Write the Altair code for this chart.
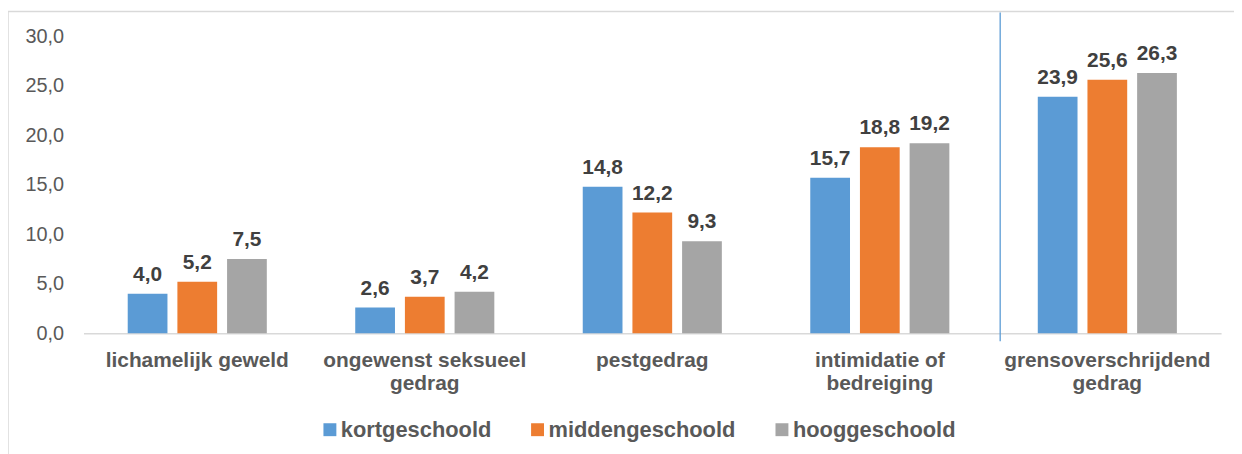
import json
import altair as alt
import pandas as pd

categories = ["lichamelijk geweld", "ongewenst seksueel gedrag", "pestgedrag",
              "intimidatie of bedreiging", "grensoverschrijdend gedrag"]
series = ["kortgeschoold", "middengeschoold", "hooggeschoold"]
kortgeschoold = [4.0, 2.6, 14.8, 15.7, 23.9]
middengeschoold = [5.2, 3.7, 12.2, 18.8, 25.6]
hooggeschoold = [7.5, 4.2, 9.3, 19.2, 26.3]
colors = ["#5B9BD5", "#ED7D31", "#A5A5A5"]
wrapped = {
    "ongewenst seksueel gedrag": ["ongewenst seksueel", "gedrag"],
    "intimidatie of bedreiging": ["intimidatie of", "bedreiging"],
    "grensoverschrijdend gedrag": ["grensoverschrijdend", "gedrag"],
}

rows = []
for s, vals in zip(series, [kortgeschoold, middengeschoold, hooggeschoold]):
    for c, v in zip(categories, vals):
        rows.append({"categorie": c, "opleiding": s, "waarde": v})
df = pd.DataFrame(rows)

W, H = 1145, 299
FONT = "Liberation Sans"

x_enc = alt.X("categorie:N", sort=categories,
              scale=alt.Scale(paddingInner=0, paddingOuter=0),
              axis=alt.Axis(title=None, labelAngle=0, ticks=False, tickSize=0,
                            domainColor="#D9D9D9", domainWidth=1.5,
                            labelFont=FONT, labelFontSize=21, labelFontWeight="bold",
                            labelColor="#595959", labelLineHeight=24, labelPadding=16,
                            labelLimit=0,
                            labelExpr="(" + json.dumps(wrapped) + ")[datum.label] || datum.label"))
xo_enc = alt.XOffset("opleiding:N", sort=series,
                     scale=alt.Scale(paddingInner=0.2, paddingOuter=0.89))
y_enc = alt.Y("waarde:Q", scale=alt.Scale(domain=[0, 30], nice=False),
              axis=alt.Axis(title=None, values=[0, 5, 10, 15, 20, 25, 30], grid=False,
                            domain=False, ticks=False, tickSize=0, labelPadding=20,
                            labelFont=FONT, labelFontSize=20, labelColor="#595959",
                            labelExpr="replace(format(datum.value, '.1f'), '.', ',')"))

base = alt.Chart(df)

bars = base.mark_bar().encode(
    x=x_enc, xOffset=xo_enc, y=y_enc,
    color=alt.Color("opleiding:N", sort=series,
                    scale=alt.Scale(domain=series, range=colors),
                    legend=alt.Legend(title=None, orient="none", direction="horizontal",
                                      legendX=237, legendY=385, padding=0,
                                      symbolType="square", symbolSize=169,
                                      symbolStrokeWidth=0, columnPadding=35,
                                      labelOffset=0, labelFont=FONT, labelFontSize=22,
                                      labelFontWeight="bold", labelColor="#595959",
                                      labelLimit=0)),
)

labels = base.transform_calculate(
    label="replace(format(datum.waarde, '.1f'), '.', ',')"
).mark_text(font=FONT, fontSize=21, fontWeight="bold", color="#404040",
            baseline="alphabetic", dy=-13).encode(
    x=alt.X("categorie:N", sort=categories), xOffset=alt.XOffset("opleiding:N", sort=series),
    y="waarde:Q", text="label:N",
)

frame = alt.Chart(pd.DataFrame({"a": [0]})).mark_rect(
    filled=False, stroke="#D9D9D9", strokeWidth=1.5
).encode(x=alt.value(-76), x2=alt.value(W + 40), y=alt.value(-25), y2=alt.value(H + 150))

# separator before the last category (band boundary + small offset)
sep_x = W * 4 / 5 + 6
sep = alt.Chart(pd.DataFrame({"a": [0]})).mark_rect().encode(
    x=alt.value(sep_x), x2=alt.value(sep_x + 1.3),
    y=alt.value(-24), y2=alt.value(H + 8),
    color=alt.value("#5B9BD5"))

chart = alt.layer(frame, bars, labels, sep).properties(
    width=W, height=H,
    autosize=alt.AutoSizeParams(type="none"),
    padding={"left": 76, "top": 27, "right": 13, "bottom": 120},
    background="white",
).configure_view(stroke=None)

chart.save("out.html", embed_options={"renderer": "svg", "actions": False})
